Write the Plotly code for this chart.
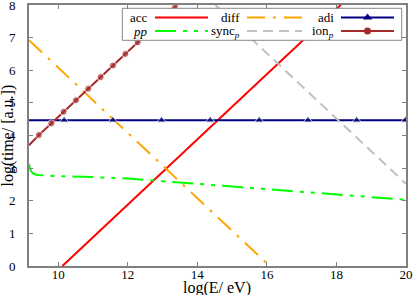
import plotly.graph_objects as go

# ---- data (log E in eV, log time in a.u.) ----
acc_E = [10.12, 12.0, 14.0, 16.0, 18.0, 20.0]
acc_t = [0.0, 1.88, 3.88, 5.88, 7.88, 9.88]

diff_E = [9.16, 10.0, 12.0, 14.0, 16.08]
diff_t = [6.92, 6.08, 4.08, 2.08, 0.0]

adi_E = [9.16, 10.17, 11.57, 12.97, 14.37, 15.78, 17.18, 18.58, 19.98, 20.0]
adi_t = [4.47, 4.47, 4.47, 4.47, 4.47, 4.47, 4.47, 4.47, 4.47, 4.47]
adi_msize = [0, 8, 8, 8, 8, 8, 8, 8, 8, 0]

pp_E = [9.16, 9.2, 9.25, 9.3, 9.4, 9.6, 10.0, 11.0, 12.0, 13.0, 14.0, 15.0, 16.0, 17.0, 18.0, 19.0, 20.0]
pp_t = [3.12, 2.95, 2.86, 2.82, 2.79, 2.775, 2.755, 2.725, 2.685, 2.60, 2.52, 2.43, 2.34, 2.26, 2.18, 2.11, 2.03]

sync_E = [14.52, 16.0, 18.0, 20.0]
sync_t = [8.0, 6.52, 4.52, 2.52]

ion_E = [9.16, 9.445, 9.80, 10.155, 10.51, 10.865, 11.22, 11.575, 11.93, 12.285, 12.64, 12.995, 13.35, 13.6]
ion_t = [3.70, 4.015, 4.37, 4.725, 5.08, 5.435, 5.79, 6.145, 6.50, 6.855, 7.21, 7.565, 7.92, 8.17]
ion_msize = [0, 7, 7, 7, 7, 7, 7, 7, 7, 7, 7, 7, 7, 0]

x_ticks = [10, 12, 14, 16, 18, 20]
y_ticks = [0, 1, 2, 3, 4, 5, 6, 7, 8]

FONT = "Liberation Serif"
AX = "#808080"

fig = go.Figure()

fig.add_trace(go.Scatter(x=acc_E, y=acc_t, mode="lines", line=dict(color="#ff0000", width=2)))
fig.add_trace(go.Scatter(x=diff_E, y=diff_t, mode="lines",
                         line=dict(color="#ffa500", width=2, dash="18px,8px,3px,8px")))
fig.add_trace(go.Scatter(x=adi_E, y=adi_t, mode="lines+markers", line=dict(color="#000080", width=2),
                         marker=dict(symbol="triangle-up", size=adi_msize, color="#000080")))
fig.add_trace(go.Scatter(x=pp_E, y=pp_t, mode="lines",
                         line=dict(color="#00ff00", width=2, dash="21px,7px,4px,7px,4px,7px")))
fig.add_trace(go.Scatter(x=sync_E, y=sync_t, mode="lines",
                         line=dict(color="#c0c0c0", width=2, dash="10px,6px")))
fig.add_trace(go.Scatter(x=ion_E, y=ion_t, mode="lines+markers", line=dict(color="#a52a2a", width=2),
                         marker=dict(symbol="circle", size=ion_msize, color="#a52a2a")))

# ---- custom legend on a pixel overlay axis ----
fig.add_trace(go.Scatter(x=[122.3, 401.7, 401.7, 122.3, 122.3], y=[8.3, 8.3, 40.3, 40.3, 8.3],
                         xaxis="x2", yaxis="y2", mode="lines", fill="toself", fillcolor="white",
                         line=dict(color="#888888", width=1)))
rows = [17.5, 31.0]
cols = [(155, 208), (247, 302), (341, 394)]
leg_items = [
    ("acc", dict(color="#ff0000", width=2), None, 0, 0),
    ("<i>pp</i>", dict(color="#00ff00", width=2, dash="21px,7px,4px,7px,4px,7px"), None, 0, 1),
    ("diff", dict(color="#ffa500", width=2, dash="18px,8px,3px,8px"), None, 1, 0),
    ("sync<sub><i>p</i></sub>", dict(color="#c0c0c0", width=2, dash="10px,6px"), None, 1, 1),
    ("adi", dict(color="#000080", width=2), "triangle-up", 2, 0),
    ("ion<sub><i>p</i></sub>", dict(color="#a52a2a", width=2), "circle", 2, 1),
]
annotations = []
for label, ln, sym, c, r in leg_items:
    x0, x1 = cols[c]
    yy = rows[r]
    fig.add_trace(go.Scatter(x=[x0, x1], y=[yy, yy], xaxis="x2", yaxis="y2", mode="lines", line=ln))
    if sym:
        fig.add_trace(go.Scatter(x=[(x0 + x1) / 2], y=[yy], xaxis="x2", yaxis="y2", mode="markers",
                                 marker=dict(symbol=sym, size=8 if sym == "triangle-up" else 7,
                                             color=ln["color"])))
    annotations.append(dict(x=x0 - 5, y=yy, xref="x2", yref="y2", text=label, showarrow=False,
                            xanchor="right", yanchor="middle", font=dict(family=FONT, size=13, color="black")))

W, H = 415, 295
L, R, T, B = 29, 9, 5, 29


def px(xp):
    return (xp - L) / (W - L - R)


def py(yp):
    return (H - B - yp) / (H - T - B)


annotations.append(dict(x=px(217), y=py(287.5), xref="paper", yref="paper", text="log(E/ eV)",
                        showarrow=False, xanchor="center", yanchor="middle",
                        font=dict(family=FONT, size=16, color="black")))
annotations.append(dict(x=px(7), y=py(135.5), xref="paper", yref="paper", text="log(time/ [a.u.])",
                        showarrow=False, xanchor="center", yanchor="middle", textangle=-90,
                        font=dict(family=FONT, size=16, color="black")))

fig.update_layout(
    width=W, height=H,
    margin=dict(l=L, r=R, t=T, b=B, autoexpand=False),
    paper_bgcolor="white", plot_bgcolor="white",
    showlegend=False,
    font=dict(family=FONT, size=13, color="black"),
    xaxis=dict(range=[9.16, 20], tickvals=x_ticks, ticktext=[str(v) for v in x_ticks],
               showgrid=False, zeroline=False, showline=True, linecolor=AX, linewidth=2,
               mirror="ticks", ticks="inside", ticklen=4, tickcolor=AX, tickwidth=1,
               tickfont=dict(family=FONT, size=13, color="black"), ticklabelstandoff=-5,
               ticklabeloverflow="allow", automargin=False),
    yaxis=dict(range=[0, 8], tickvals=y_ticks, ticktext=[str(v) for v in y_ticks],
               showgrid=False, zeroline=False, showline=True, linecolor=AX, linewidth=2,
               mirror="ticks", ticks="inside", ticklen=4, tickcolor=AX, tickwidth=1,
               tickfont=dict(family=FONT, size=13, color="black"), ticklabelstandoff=9,
               ticklabeloverflow="allow", automargin=False),
    xaxis2=dict(overlaying="x", range=[L, W - R], visible=False, fixedrange=True),
    yaxis2=dict(overlaying="y", range=[H - B, T], visible=False, fixedrange=True),
    annotations=annotations,
)

fig.write_html("out.html", config={"displayModeBar": False},
               post_script="document.body.style.margin='0px';")
